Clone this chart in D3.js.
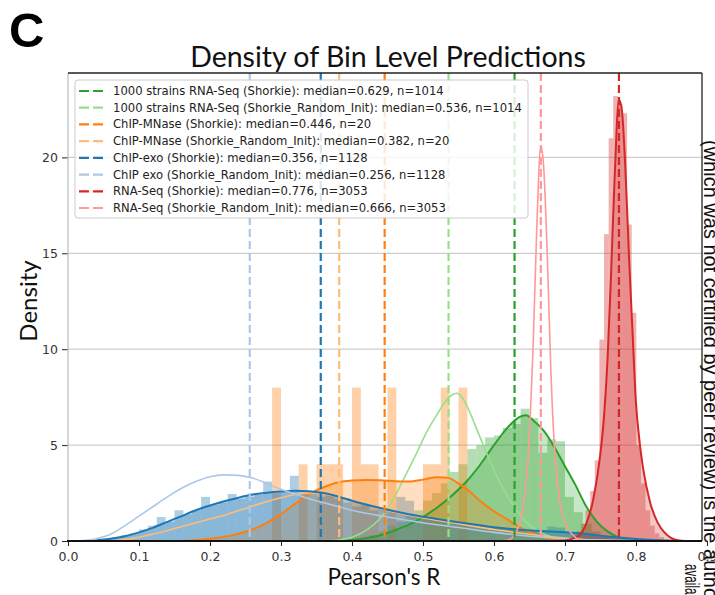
<!DOCTYPE html>
<html>
<head>
<meta charset="utf-8">
<script src="https://cdn.jsdelivr.net/npm/d3@7"></script>
<style>
  html, body { margin: 0; padding: 0; background: #fff; overflow: hidden; }
  svg { display: block; }
</style>
</head>
<body>
<svg id="chart" width="715" height="595"></svg>
<script>
// ---- Data -------------------------------------------------------------
const seriesLabels = [
  "1000 strains RNA-Seq (Shorkie)",
  "1000 strains RNA-Seq (Shorkie_Random_Init)",
  "ChIP-MNase (Shorkie)",
  "ChIP-MNase (Shorkie_Random_Init)",
  "ChIP-exo (Shorkie)",
  "ChIP exo (Shorkie_Random_Init)",
  "RNA-Seq (Shorkie)",
  "RNA-Seq (Shorkie_Random_Init)"
];
const seriesMedians = [0.629, 0.536, 0.446, 0.382, 0.356, 0.256, 0.776, 0.666];
const seriesCounts  = [1014, 1014, 20, 20, 1128, 1128, 3053, 3053];
const seriesColors  = ["#2ca02c", "#98df8a", "#ff7f0e", "#ffbb78",
                       "#1f77b4", "#aec7e8", "#d62728", "#ff9896"];

const xTickValues = [0.0, 0.1, 0.2, 0.3, 0.4, 0.5, 0.6, 0.7, 0.8, 0.9];
const yTickValues = [0, 5, 10, 15, 20];

// Histogram densities (Shorkie models): first bin edge, bin width, heights
const histStrainsStart = 0.40, histStrainsWidth = 0.0125;
const histStrains = [0.1, 0.2, 0.3, 0.5, 0.8, 1.0, 1.3, 1.6, 2.1, 2.5, 3.0, 3.6,
  4.0, 4.8, 5.0, 5.4, 5.5, 5.9, 6.1, 6.9, 6.4, 4.6, 5.3, 5.2, 2.3, 1.5, 0.9, 0.5,
  0.25, 0.1];

const histMNaseStart = 0.2875, histMNaseWidth = 0.0125;
const histMNase = [8, 0, 0, 4, 0, 4, 4, 4, 0, 8, 4, 4, 0, 8, 0, 0, 0, 4, 4, 8, 0, 8];

const histExoStart = 0.05, histExoWidth = 0.0125;
const histExo = [0.1, 0.2, 0.3, 0.4, 0.6, 0.8, 1.25, 1.0, 1.6, 1.4, 1.6, 2.3,
  1.9, 2.0, 2.45, 2.2, 2.3, 2.4, 3.1, 2.5, 2.6, 3.4, 2.5, 2.6, 2.3, 2.4, 2.2, 2.0,
  1.8, 1.9, 1.6, 1.7, 1.5, 2.3, 2.1, 1.3, 1.2, 1.1, 1.1, 0.9, 0.9, 0.8, 0.8, 0.7,
  0.7, 0.6, 0.6, 0.55, 0.5, 0.5, 0.75, 0.7, 0.45, 0.4, 0.35, 0.3, 0.25, 0.2, 0.15,
  0.1, 0.08, 0.05, 0.03, 0.02];

const histRnaStart = 0.6965, histRnaWidth = 0.0065;
const histRna = [0.05, 0.15, 0.3, 0.5, 0.9, 1.6, 2.6, 4.2, 10.5, 16.0, 21.0, 23.2,
  22.8, 22.3, 16.5, 11.9, 5.0, 3.0, 1.6, 0.8, 0.4, 0.2, 0.08];

// Kernel density curves: [Pearson's R, density]
const kdeStrains = [[0.38,0],[0.40,0.05],[0.42,0.15],[0.44,0.3],[0.46,0.55],[0.48,0.85],
  [0.50,1.25],[0.52,1.75],[0.54,2.35],[0.56,3.05],[0.58,3.95],[0.60,5.0],[0.62,5.95],
  [0.635,6.45],[0.645,6.55],[0.655,6.3],[0.67,5.75],[0.685,4.9],[0.70,3.9],[0.715,2.9],
  [0.73,1.8],[0.745,1.0],[0.76,0.5],[0.775,0.2],[0.79,0.07],[0.81,0]];
const kdeStrainsRandom = [[0.36,0],[0.38,0.05],[0.40,0.2],[0.42,0.55],[0.44,1.2],[0.46,2.3],
  [0.475,3.4],[0.49,4.5],[0.50,5.3],[0.51,6.0],[0.52,6.6],[0.53,7.2],[0.54,7.6],[0.548,7.7],
  [0.555,7.5],[0.565,6.8],[0.575,5.9],[0.585,5.0],[0.60,3.7],[0.615,2.6],[0.63,1.7],
  [0.645,1.0],[0.66,0.55],[0.68,0.22],[0.70,0.07],[0.73,0]];
const kdeMNase = [[0.16,0],[0.18,0.05],[0.20,0.12],[0.22,0.22],[0.24,0.38],[0.26,0.6],
  [0.28,0.95],[0.30,1.4],[0.32,1.95],[0.34,2.45],[0.36,2.8],[0.38,3.05],[0.40,3.15],
  [0.42,3.18],[0.44,3.17],[0.46,3.12],[0.48,3.1],[0.50,3.2],[0.52,3.33],[0.535,3.3],
  [0.55,3.0],[0.565,2.6],[0.58,2.1],[0.60,1.55],[0.62,1.1],[0.64,0.65],[0.66,0.32],
  [0.68,0.12],[0.70,0.03],[0.72,0]];
const kdeMNaseRandom = [[0.06,0],[0.08,0.08],[0.10,0.2],[0.125,0.4],[0.15,0.65],[0.175,0.9],
  [0.20,1.15],[0.225,1.4],[0.25,1.7],[0.275,2.0],[0.30,2.25],[0.32,2.42],[0.34,2.5],
  [0.36,2.45],[0.38,2.3],[0.40,2.1],[0.42,1.9],[0.44,1.7],[0.46,1.5],[0.48,1.35],
  [0.50,1.2],[0.525,1.05],[0.55,0.9],[0.575,0.75],[0.60,0.6],[0.625,0.47],[0.65,0.35],
  [0.675,0.24],[0.70,0.15],[0.725,0.08],[0.75,0.04],[0.78,0]];
const kdeExo = [[0.02,0],[0.04,0.04],[0.06,0.12],[0.08,0.25],[0.10,0.45],[0.12,0.7],
  [0.14,1.0],[0.16,1.3],[0.18,1.6],[0.20,1.85],[0.22,2.07],[0.24,2.26],[0.26,2.42],
  [0.28,2.52],[0.30,2.58],[0.32,2.62],[0.34,2.6],[0.36,2.5],[0.38,2.32],[0.40,2.1],
  [0.42,1.9],[0.44,1.72],[0.46,1.55],[0.48,1.4],[0.50,1.27],[0.52,1.15],[0.54,1.03],
  [0.56,0.92],[0.58,0.82],[0.60,0.72],[0.62,0.64],[0.64,0.58],[0.66,0.54],[0.68,0.5],
  [0.70,0.46],[0.72,0.4],[0.74,0.32],[0.76,0.24],[0.78,0.17],[0.80,0.11],[0.82,0.06],
  [0.84,0.03],[0.86,0.01],[0.87,0]];
const kdeExoRandom = [[0.02,0.02],[0.04,0.12],[0.06,0.35],[0.08,0.8],[0.10,1.3],[0.12,1.8],
  [0.14,2.3],[0.16,2.75],[0.18,3.1],[0.20,3.35],[0.22,3.45],[0.24,3.42],[0.26,3.28],
  [0.28,3.0],[0.30,2.7],[0.32,2.45],[0.34,2.2],[0.36,2.0],[0.38,1.8],[0.40,1.6],
  [0.45,1.25],[0.50,0.95],[0.55,0.7],[0.60,0.45],[0.65,0.25],[0.70,0.12],[0.75,0.05],
  [0.80,0.01]];
const kdeRna = [[0.69,0],[0.70,0.03],[0.72,0.3],[0.73,0.9],[0.74,2.2],[0.75,4.6],
  [0.755,6.5],[0.76,9.5],[0.765,14],[0.77,19],[0.776,23.0],[0.78,22.5],[0.785,19.5],
  [0.79,15],[0.795,11],[0.80,7.2],[0.805,5.2],[0.81,3.8],[0.82,2.0],[0.83,1.0],
  [0.84,0.45],[0.85,0.15],[0.86,0.03],[0.87,0]];
const kdeRnaRandom = [[0.61,0],[0.62,0.05],[0.63,0.4],[0.64,1.5],[0.645,3.0],[0.65,5.5],
  [0.655,10],[0.66,16],[0.666,20.6],[0.67,19.5],[0.675,15],[0.68,9],[0.685,5],
  [0.69,2.8],[0.70,1.0],[0.71,0.35],[0.72,0.08],[0.73,0]];

// ---- Layout ------------------------------------------------------------
const svg = d3.select("#chart");
const plot = { left: 68, right: 702, top: 73, bottom: 541 };

const x = d3.scaleLinear().domain([0, 0.893]).range([plot.left, plot.right]);
const y = d3.scaleLinear().domain([0, 24.4]).range([plot.bottom, plot.top]);

svg.append("defs").append("clipPath").attr("id", "plotClip")
  .append("rect")
  .attr("x", plot.left).attr("y", plot.top)
  .attr("width", plot.right - plot.left).attr("height", plot.bottom - plot.top);

// Horizontal grid
svg.append("g").selectAll("line")
  .data(yTickValues.filter(v => v > 0))
  .join("line")
  .attr("x1", plot.left).attr("x2", plot.right)
  .attr("y1", d => y(d)).attr("y2", d => y(d))
  .attr("stroke", "#cdcdcd").attr("stroke-width", 1.2);

const layer = svg.append("g").attr("clip-path", "url(#plotClip)");

// Histogram bars of the Shorkie models
const histograms = [
  { heights: histStrains, start: histStrainsStart, width: histStrainsWidth, color: seriesColors[0] },
  { heights: histMNase,   start: histMNaseStart,   width: histMNaseWidth,   color: seriesColors[2] },
  { heights: histExo,     start: histExoStart,     width: histExoWidth,     color: seriesColors[4] },
  { heights: histRna,     start: histRnaStart,     width: histRnaWidth,     color: seriesColors[6] }
];
histograms.forEach(h => {
  const bins = h.heights.map((v, i) => ({ x0: h.start + i * h.width, x1: h.start + (i + 1) * h.width, v }));
  layer.append("g").selectAll("rect")
    .data(bins.filter(b => b.v > 0))
    .join("rect")
    .attr("x", b => x(b.x0))
    .attr("width", b => Math.max(0, x(b.x1) - x(b.x0)))
    .attr("y", b => y(b.v))
    .attr("height", b => y(0) - y(b.v))
    .attr("fill", h.color)
    .attr("fill-opacity", 0.36);
});

// Kernel density curves
const kdes = [
  { pts: kdeStrains,       color: seriesColors[0], fill: true,  width: 2.0 },
  { pts: kdeStrainsRandom, color: seriesColors[1], fill: false, width: 1.6 },
  { pts: kdeMNase,         color: seriesColors[2], fill: true,  width: 2.0 },
  { pts: kdeMNaseRandom,   color: seriesColors[3], fill: false, width: 1.6 },
  { pts: kdeExo,           color: seriesColors[4], fill: true,  width: 2.0 },
  { pts: kdeExoRandom,     color: seriesColors[5], fill: false, width: 1.6 },
  { pts: kdeRna,           color: seriesColors[6], fill: true,  width: 2.0 },
  { pts: kdeRnaRandom,     color: seriesColors[7], fill: false, width: 1.6 }
];
const area = d3.area().x(d => x(d[0])).y0(y(0)).y1(d => y(d[1])).curve(d3.curveMonotoneX);
const line = d3.line().x(d => x(d[0])).y(d => y(d[1])).curve(d3.curveMonotoneX);

kdes.filter(k => k.fill).forEach(k => {
  layer.append("path").datum(k.pts).attr("d", area)
    .attr("fill", k.color).attr("fill-opacity", 0.26);
});
kdes.forEach(k => {
  layer.append("path").datum(k.pts).attr("d", line)
    .attr("fill", "none").attr("stroke", k.color)
    .attr("stroke-width", k.width).attr("stroke-linejoin", "round");
});

// Median markers
layer.append("g").selectAll("line")
  .data(seriesMedians.map((m, i) => ({ m, c: seriesColors[i] })))
  .join("line")
  .attr("x1", d => x(d.m)).attr("x2", d => x(d.m))
  .attr("y1", plot.top).attr("y2", plot.bottom)
  .attr("stroke", d => d.c).attr("stroke-width", 2.2)
  .attr("stroke-dasharray", "8,4");

// ---- Axes --------------------------------------------------------------
const tickFont = "'DejaVu Sans', sans-serif";

const xAxis = svg.append("g").attr("transform", `translate(0,${plot.bottom})`)
  .call(d3.axisBottom(x).tickValues(xTickValues).tickFormat(d3.format(".1f")).tickSize(5).tickPadding(6));
xAxis.select(".domain").remove();
xAxis.selectAll("text").attr("font-family", tickFont).attr("font-size", 12.5).attr("fill", "#333");
xAxis.selectAll("line").attr("stroke", "#222");

const yAxis = svg.append("g").attr("transform", `translate(${plot.left},0)`)
  .call(d3.axisLeft(y).tickValues(yTickValues).tickFormat(d3.format("d")).tickSize(6).tickPadding(4));
yAxis.select(".domain").remove();
yAxis.selectAll("text").attr("font-family", tickFont).attr("font-size", 12.5).attr("fill", "#333");
yAxis.selectAll("line").attr("stroke", "#222");

// Frame
svg.append("line").attr("x1", plot.left).attr("x2", plot.left)
  .attr("y1", plot.top).attr("y2", plot.bottom).attr("stroke", "#bdbdbd").attr("stroke-width", 1.2);
svg.append("line").attr("x1", plot.left).attr("x2", plot.right)
  .attr("y1", plot.top).attr("y2", plot.top).attr("stroke", "#222").attr("stroke-width", 1.3);
svg.append("line").attr("x1", plot.right).attr("x2", plot.right)
  .attr("y1", plot.top).attr("y2", plot.bottom).attr("stroke", "#222").attr("stroke-width", 1.3);
svg.append("line").attr("x1", plot.left - 1).attr("x2", plot.right)
  .attr("y1", plot.bottom).attr("y2", plot.bottom).attr("stroke", "#111").attr("stroke-width", 2);

// ---- Legend ------------------------------------------------------------
const legend = svg.append("g");
legend.append("rect")
  .attr("x", 75).attr("y", 80).attr("width", 453).attr("height", 138)
  .attr("rx", 3).attr("fill", "#fff").attr("fill-opacity", 0.82)
  .attr("stroke", "#cccccc").attr("stroke-width", 1);
const rowY = d3.scaleLinear().domain([0, 7]).range([91, 208]);
seriesLabels.forEach((label, i) => {
  const yy = rowY(i);
  legend.append("line")
    .attr("x1", 79).attr("x2", 104).attr("y1", yy).attr("y2", yy)
    .attr("stroke", seriesColors[i]).attr("stroke-width", 2.2)
    .attr("stroke-dasharray", "10,4");
  legend.append("text")
    .attr("x", 113).attr("y", yy).attr("dy", "0.35em")
    .attr("font-family", tickFont).attr("font-size", 11.6).attr("fill", "#222")
    .text(`${label}: median=${seriesMedians[i].toFixed(3)}, n=${seriesCounts[i]}`);
});

// ---- Titles ------------------------------------------------------------
const labelFont = "Lato, 'Open Sans', sans-serif";
svg.append("text")
  .attr("x", 388).attr("y", 67).attr("text-anchor", "middle")
  .attr("font-family", labelFont).attr("font-size", 28.5).attr("fill", "#111")
  .text("Density of Bin Level Predictions");
svg.append("text")
  .attr("x", 384).attr("y", 585).attr("text-anchor", "middle")
  .attr("font-family", labelFont).attr("font-size", 22.5).attr("fill", "#111")
  .text("Pearson's R");
svg.append("text")
  .attr("transform", "translate(37,301) rotate(-90)").attr("text-anchor", "middle")
  .attr("font-family", labelFont).attr("font-size", 24).attr("fill", "#111")
  .text("Density");

// Panel letter
svg.append("text")
  .attr("x", 9).attr("y", 47)
  .attr("font-family", "'Liberation Sans', Arial, sans-serif").attr("font-weight", "bold")
  .attr("font-size", 49).attr("fill", "#000")
  .text("C");

// Margin note running down the right edge
svg.append("text")
  .attr("transform", "translate(704,140) rotate(90)")
  .attr("font-family", "'Liberation Sans', Arial, sans-serif").attr("font-size", 20).attr("fill", "#111")
  .text("(which was not certified by peer review) is the author/funder");
svg.append("text")
  .attr("transform", "translate(685,564) rotate(90)")
  .attr("font-family", "'Liberation Sans', Arial, sans-serif").attr("font-size", 20).attr("fill", "#111")
  .attr("textLength", 46).attr("lengthAdjust", "spacingAndGlyphs")
  .text("available");
</script>
</body>
</html>
